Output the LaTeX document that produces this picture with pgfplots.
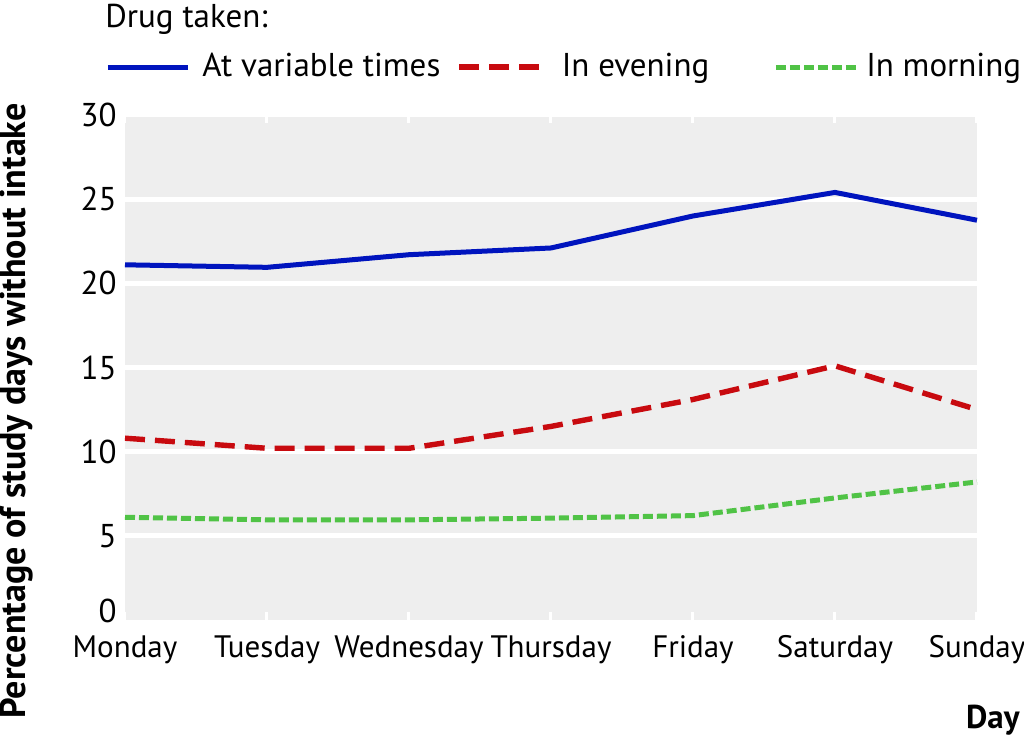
\documentclass[border=0pt]{standalone}
\usepackage{pgfplots}
\pgfplotsset{compat=1.18}
\usepackage{pgfplotstable}
\usepackage{fontspec}
\setmainfont{PT Sans}

\definecolor{bgray}{RGB}{238,238,238}
\definecolor{lblue}{RGB}{0,20,190}
\definecolor{lred}{RGB}{200,10,15}
\definecolor{lgreen}{RGB}{80,195,70}

\pgfplotstableread{
x  variable evening morning
0  21.1     10.8    6.1
1  20.95    10.2    5.95
2  21.7     10.2    5.95
3  22.1     11.5    6.05
4  24.0     13.1    6.2
5  25.4     15.1    7.25
6  23.75    12.5    8.2
}\drugdata

\begin{document}
\fontsize{16.5}{19}\selectfont
\begin{tikzpicture}
\path[use as bounding box] (-62.5pt,-58.5pt) rectangle (449.5pt,310pt);
\begin{axis}[
    at={(0pt,0pt)}, anchor=south west,
    scale only axis,
    width=426pt, height=252.5pt,
    xmin=0, xmax=6, ymin=0, ymax=30,
    xtick={0,...,6},
    xticklabels={Monday,Tuesday,Wednesday,Thursday,Friday,Saturday,Sunday},
    ytick={5,10,...,30},
    extra y ticks={0},
    extra y tick style={grid=none, yticklabel style={yshift=4.5pt}},
    axis line style={draw=none},
    axis background/.style={fill=bgray},
    ymajorgrids,
    grid style={white, line width=2.5pt},
    major tick length=4pt,
    tick align=inside,
    xtick style={white, line width=1.5pt},
    ytick style={draw=none},
    clip=false,
    /pgf/number format/assume math mode=true,
    xticklabel style={font=\fontsize{15.5}{18}\selectfont, yshift=-2pt},
    yticklabel style={font=\fontsize{16.5}{19}\selectfont, xshift=1.5pt},
    ylabel={Percentage of study days without intake},
    ylabel style={at={(axis description cs:-0.127,0.414)}, anchor=center, inner sep=0pt,
        font=\fontsize{18}{20}\selectfont\bfseries},
    xlabel={Day},
    xlabel style={at={(axis description cs:1.0505,-0.214)}, anchor=base east, inner sep=0pt,
        font=\fontsize{16.5}{19}\selectfont\bfseries},
    legend columns=-1,
    legend style={at={(axis description cs:-0.0235,1.095)}, anchor=west,
        draw=none, fill=none, inner sep=0pt,
        font=\fontsize{16.5}{19}\selectfont,
        /tikz/every odd column/.append style={column sep=4pt},
        /tikz/every even column/.append style={column sep=6pt}},
    legend image code/.code={\draw[#1] (0pt,0pt) -- (40pt,0pt);},
]
\addplot[lblue, line width=2.5pt] table[x=x, y=variable] {\drugdata};
\addlegendentry{At variable times}
\addplot[lred, line width=2.7pt, dash pattern=on 10pt off 5pt] table[x=x, y=evening] {\drugdata};
\addlegendentry{\kern4pt In evening\kern24pt\relax}
\addplot[lgreen, line width=2.5pt, dash pattern=on 5pt off 2pt] table[x=x, y=morning] {\drugdata};
\addlegendentry{\kern-2pt In morning}
\end{axis}
\node[anchor=base west, inner sep=0pt] at (-10pt,296pt) {Drug taken:};
\end{tikzpicture}
\end{document}
